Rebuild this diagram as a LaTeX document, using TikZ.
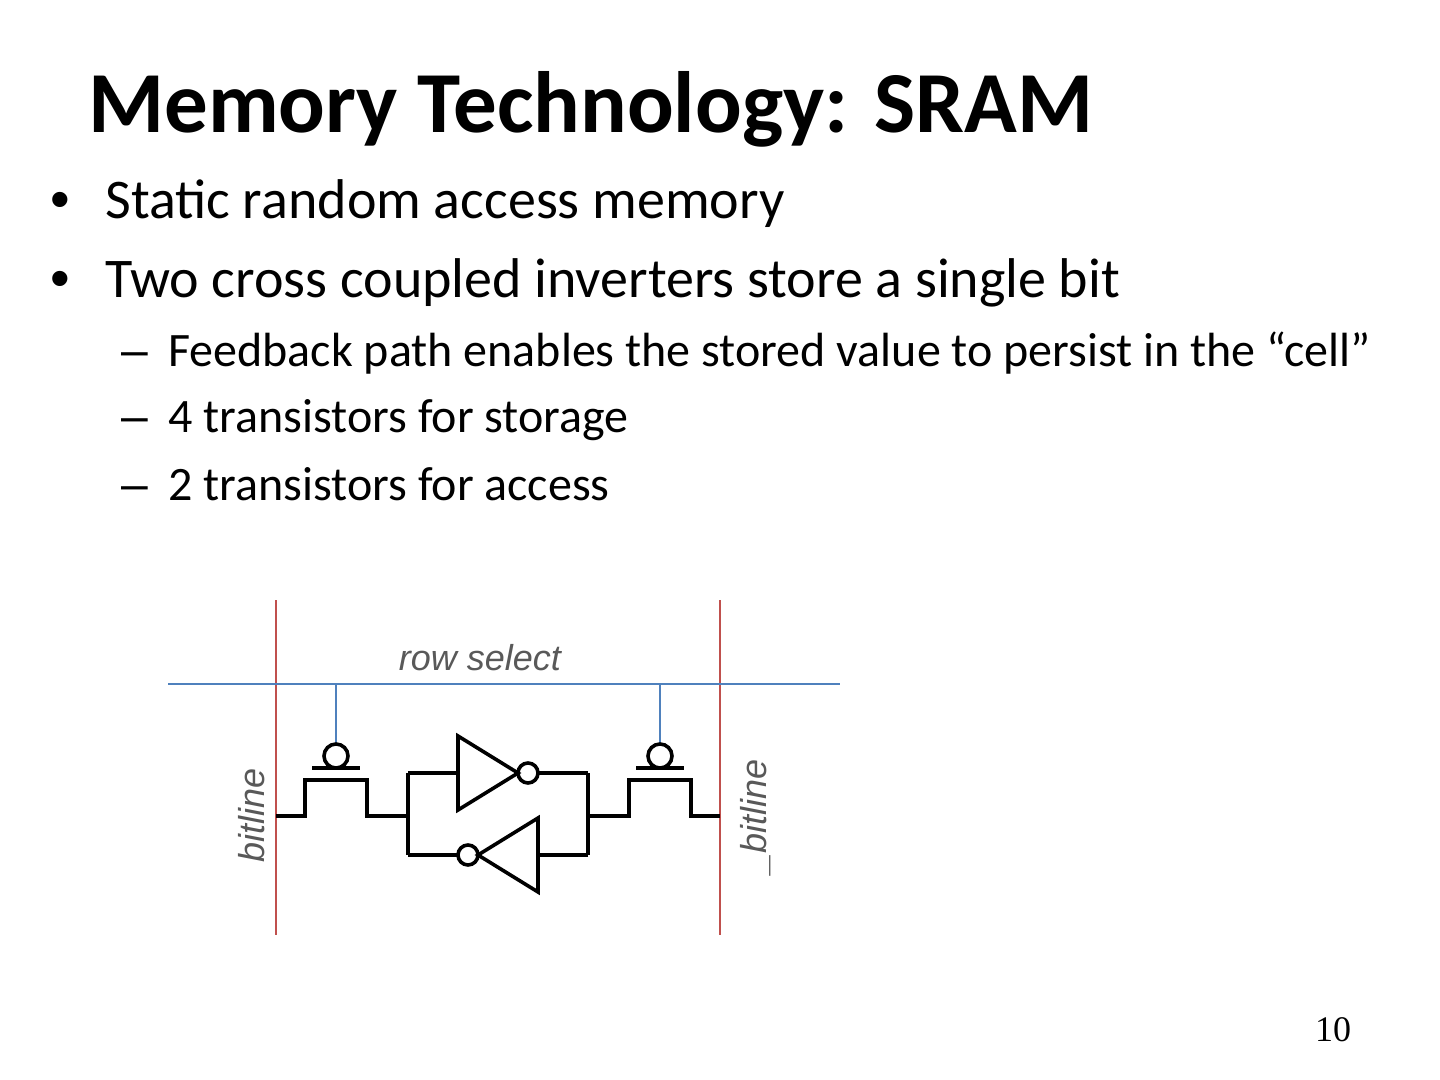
\documentclass[tikz,border=0pt]{standalone}
\usepackage{fontspec}
\setmainfont{Carlito}
\newfontfamily\sigfont{Liberation Sans}
\newfontfamily\pagefont{Liberation Serif}
\definecolor{bitred}{HTML}{C0504D}
\definecolor{selblue}{HTML}{4F81BD}
\definecolor{labelgray}{HTML}{595959}
\begin{document}
\begin{tikzpicture}[x=0.5pt,y=-0.5pt,
  txt/.style={anchor=base west,inner sep=0pt},
  mark char/.style={anchor=base,inner sep=0pt},
  big/.style={font=\fontsize{28}{34}\selectfont},
  small/.style={font=\fontsize{24}{29}\selectfont},
  bigmark/.style={font=\sigfont\fontsize{28}{34}\selectfont},
  smallmark/.style={font=\sigfont\fontsize{24}{29}\selectfont},
  sig/.style={inner sep=0pt,text=labelgray,font=\sigfont\itshape\fontsize{18}{18}\selectfont},
  bitwire/.style={line width=1.4pt,bitred},
  selwire/.style={line width=1.4pt,selblue},
  wire/.style={line width=1.8pt,black,line join=miter}]
  \useasboundingbox (0,0) rectangle (1440,1080);
  % title and bullets
  \node[txt,font=\bfseries\fontsize{43.5}{52}\selectfont] (title) at (88,133) {Memory Technology: SRAM};
  \node[mark char,bigmark] (b1) at (60,219) {•};
  \node[txt,big] (t1) at (105,219) {Static random access memory};
  \node[mark char,bigmark] (b2) at (60,298) {•};
  \node[txt,big] (t2) at (105,298) {Two cross coupled inverters store a single bit};
  \node[mark char,smallmark] (d1) at (135,367) {–};
  \node[txt,small] (s1) at (168,367) {Feedback path enables the stored value to persist in the “cell”};
  \node[mark char,smallmark] (d2) at (135,433) {–};
  \node[txt,small] (s2) at (168,433) {4 transistors for storage};
  \node[mark char,smallmark] (d3) at (135,500) {–};
  \node[txt,small] (s3) at (168,500) {2 transistors for access};
  % bitlines and row select
  \coordinate (bl top) at (276,600);
  \coordinate (bl bot) at (276,935);
  \coordinate (nbl top) at (720,600);
  \coordinate (nbl bot) at (720,935);
  \coordinate (rs west) at (168,684);
  \coordinate (rs east) at (840,684);
  \draw[bitwire] (bl top) -- (bl bot);
  \draw[bitwire] (nbl top) -- (nbl bot);
  \draw[selwire] (rs west) -- (rs east);
  \node[sig,anchor=base] (rowsel) at (480,670) {row select};
  \node[sig,anchor=base,rotate=90] (bitl) at (264,815) {bitline};
  \node[sig,anchor=base,rotate=90] (nbitl) at (766,816) {\_bitline};
  % access transistors
  \foreach \g/\s in {336/1,660/-1}{
    \draw[selwire] (\g,684) -- (\g,744);
    \draw[wire] (\g,756) circle[radius=12];
    \draw[wire] (\g-24,768) -- (\g+24,768);
    \draw[wire] (\g-\s*60,816) -- (\g-\s*31,816) -- (\g-\s*31,780)
      -- (\g+\s*31,780) -- (\g+\s*31,816) -- (\g+\s*72,816);
  }
  % cross coupled inverters
  \coordinate (q west) at (408,773);
  \coordinate (q east) at (588,773);
  \coordinate (nq west) at (408,855);
  \coordinate (nq east) at (588,855);
  \draw[wire] (q west) -- (nq west);
  \draw[wire] (q east) -- (nq east);
  \draw[wire] (q west) -- (458,773);
  \draw[wire] (458,736) -- (518,773) -- (458,810) -- cycle;
  \draw[wire] (528,773) circle[radius=10];
  \draw[wire] (538,773) -- (q east);
  \draw[wire] (nq east) -- (538,855);
  \draw[wire] (538,818) -- (478,855) -- (538,892) -- cycle;
  \draw[wire] (468,855) circle[radius=10];
  \draw[wire] (458,855) -- (nq west);
  % page number
  \node[mark char,font=\pagefont\fontsize{18}{18}\selectfont] (pageno) at (1333,1041) {10};
\end{tikzpicture}
\end{document}
